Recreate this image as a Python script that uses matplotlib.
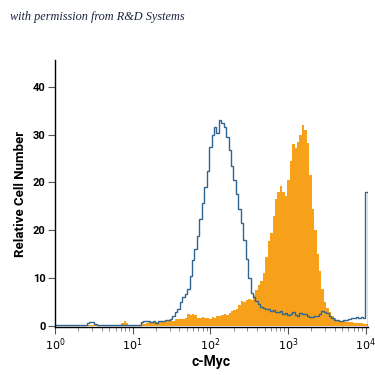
import numpy as np
import matplotlib.pyplot as plt

# histogram channels: 128 log-spaced bins from 10^0 to just past 10^4
edges = np.logspace(0, 4.03, 129)

# isotype control (blue outline)
control = [
    0.3, 0.3, 0.3, 0.3, 0.3, 0.3, 0.3, 0.3, 0.3, 0.3, 0.3, 0.3, 0.3,
    0.6, 0.9, 0.9, 0.5,
    0.3, 0.3, 0.3, 0.3, 0.3, 0.3, 0.3, 0.3, 0.3, 0.3, 0.3, 0.3, 0.3, 0.3, 0.3, 0.3, 0.3, 0.3,
    0.9, 1.0, 1.0, 1.1, 0.9, 1.0, 0.7, 1.0, 1.1, 1.0, 1.2, 1.3, 1.5,
    2.0, 2.9, 3.5, 5.0, 6.0, 6.8, 7.7, 10.5, 13.9, 16.0, 18.8, 22.4,
    25.8, 29.0, 32.5, 37.5, 40.0, 41.5, 40.4, 43.1, 42.5, 41.5, 39.5, 36.8,
    33.5, 30.5, 27.5, 24.5, 21.5, 18.0, 14.0, 10.0, 7.0, 6.0, 5.2, 4.6,
    4.0, 3.8, 3.6, 3.5, 3.2, 3.3, 3.0, 2.9, 3.1, 2.6, 2.8, 2.4,
    2.5, 2.9, 2.3, 2.0, 2.8, 2.6, 2.5, 2.2, 1.8, 1.9, 2.1, 2.2,
    2.6, 3.2, 3.0, 2.8, 2.2, 1.6, 1.3, 1.2, 1.1, 1.1, 1.2, 1.3,
    1.5, 1.7, 1.7, 1.8, 1.7, 1.8, 1.7, 28.0,
]

# c-Myc stained (orange filled)
cmyc = [
    0.3, 0.3, 0.3, 0.3, 0.3, 0.3, 0.3, 0.3, 0.3, 0.3, 0.3, 0.3, 0.3,
    0.3, 0.3, 0.3, 0.3, 0.3, 0.3, 0.3, 0.3, 0.3, 0.3, 0.3, 0.3, 0.3, 0.3,
    0.6, 1.0, 0.6,
    0.3, 0.3, 0.3, 0.3, 0.3,
    0.6, 0.5, 0.6, 0.8, 0.7, 0.9, 0.8, 1.0, 1.0, 0.9, 1.0, 1.1,
    1.2, 1.1, 1.5, 1.4, 1.5, 1.4, 1.6, 2.5, 2.4, 2.6, 2.3, 1.7,
    1.6, 1.8, 1.6, 1.7, 1.5, 1.8, 1.7, 2.0, 2.2, 2.3, 2.5, 2.4,
    2.8, 3.2, 3.3, 3.6, 4.5, 5.2, 5.0, 5.4, 5.6, 5.5, 6.5, 7.6,
    8.5, 9.5, 11.0, 14.5, 17.8, 19.5, 23.0, 26.5, 28.0, 29.2, 28.0, 27.2,
    30.5, 34.5, 38.0, 37.2, 38.5, 40.0, 42.1, 41.0, 38.3, 31.5, 24.5, 20.0,
    15.0, 11.5, 7.7, 5.0, 3.8, 3.0, 2.1, 1.6, 1.2, 1.1, 1.0, 1.0,
    0.9, 0.8, 0.8, 0.7, 0.6, 0.6, 0.6, 0.5, 0.4,
]

ytick_pos = [0, 10, 20, 30, 40, 50]
ytick_lab = ['0', '10', '20', '20', '30', '40']
xtick_pos = [1, 10, 100, 1000, 10000]
xtick_lab = [r'$10^0$', r'$10^1$', r'$10^2$', r'$10^3$', r'$10^4$']

narrow = ['Liberation Sans Narrow', 'Roboto', 'DejaVu Sans']

fig = plt.figure(figsize=(3.75, 3.75), dpi=100)
ax = fig.add_axes([0.147, 0.128, 0.834, 0.712])

ax.stairs(cmyc, edges, fill=True, color='#f7a11a', linewidth=0)
ax.stairs(control, edges, color='#2f6590', linewidth=1.0)

ax.set_xscale('log')
ax.set_xlim(1, 10 ** 4.03)
ax.set_ylim(-0.2, 55.6)

ax.set_xticks(xtick_pos)
ax.set_xticklabels(xtick_lab, fontsize=8)
ax.set_yticks(ytick_pos)
ax.set_yticklabels(ytick_lab, fontsize=8, family=narrow, fontweight='bold')

ax.tick_params(axis='both', direction='out', length=5, width=0.8, color='#555555', pad=2)
ax.tick_params(axis='x', which='minor', direction='out', length=3, width=0.6, color='#777777')

for s in ['top', 'right']:
    ax.spines[s].set_visible(False)
for s in ['left', 'bottom']:
    ax.spines[s].set_linewidth(1.0)
    ax.spines[s].set_color('black')

ax.set_ylabel('Relative Cell Number', fontsize=9.5, fontweight='bold', family=narrow, labelpad=4)
ax.set_xlabel('c-Myc', fontsize=10, fontweight='bold', family=narrow, labelpad=1)

fig.text(0.027, 0.947, 'with permission from R&D Systems', fontsize=8.8, style='italic',
         family='Liberation Serif', color='#1a2340')

plt.savefig('out.png', dpi=100)
